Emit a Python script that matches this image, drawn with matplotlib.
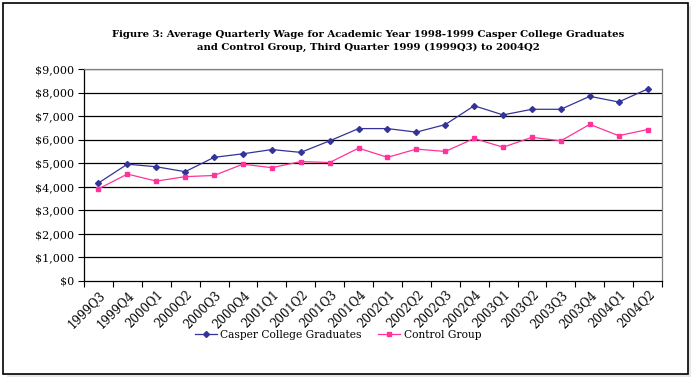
import matplotlib
matplotlib.use("Agg")
import matplotlib.pyplot as plt
from matplotlib.patches import Rectangle
import matplotlib.transforms as mtransforms
import numpy as np

quarters = ["1999Q3", "1999Q4", "2000Q1", "2000Q2", "2000Q3", "2000Q4",
            "2001Q1", "2001Q2", "2001Q3", "2001Q4", "2002Q1", "2002Q2",
            "2002Q3", "2002Q4", "2003Q1", "2003Q2", "2003Q3", "2003Q4",
            "2004Q1", "2004Q2"]
casper = [4160, 4960, 4850, 4640, 5250, 5400, 5580, 5460, 5950, 6470,
          6470, 6320, 6640, 7440, 7050, 7290, 7290, 7840, 7600, 8150]
control = [3910, 4540, 4240, 4430, 4480, 4960, 4810, 5070, 5030, 5640,
           5250, 5600, 5500, 6050, 5680, 6100, 5950, 6650, 6170, 6430]
yticks = [0, 1000, 2000, 3000, 4000, 5000, 6000, 7000, 8000, 9000]
title = ("Figure 3: Average Quarterly Wage for Academic Year 1998-1999 Casper College Graduates\n"
         "and Control Group, Third Quarter 1999 (1999Q3) to 2004Q2")

plt.rcParams['font.family'] = ['DejaVu Serif']

W, H = 692, 377
fig = plt.figure(figsize=(W / 100, H / 100), dpi=100)
fig.patch.set_facecolor('white')

# shadow + frame
fig.add_artist(Rectangle((7 / W, 1 - 378 / H), 684 / W, 372 / H, transform=fig.transFigure,
                         facecolor='#e6e6e6', edgecolor='none', zorder=0))
fig.add_artist(Rectangle((3 / W, 1 - 374 / H), 685 / W, 371 / H, transform=fig.transFigure,
                         facecolor='white', edgecolor='black', linewidth=1.2, zorder=1))

ax = fig.add_axes([84 / W, 1 - 281 / H, 578 / W, 212 / H])
ax.set_zorder(2)
x = np.arange(len(quarters))
ax.plot(x, casper, color='#333399', marker='D', markersize=3, linewidth=0.9,
        label='Casper College Graduates', zorder=3)
ax.plot(x, control, color='#ff3399', marker='s', markersize=3.2, linewidth=0.9,
        label='Control Group', zorder=3)

ax.set_xlim(-0.5, len(quarters) - 0.5)
ax.set_ylim(0, 9000)
ax.set_yticks(yticks)
ax.set_yticklabels([f"${v:,}" for v in yticks], fontsize=8)
for v in yticks[1:]:
    ax.axhline(v, color='black', linewidth=0.9, zorder=1)

ax.set_xticks(x)
ax.set_xticklabels(quarters, rotation=45, ha='right', va='top',
                   rotation_mode='anchor', fontsize=8.5)
offset = mtransforms.ScaledTranslation(-8 / 100, 1 / 100, fig.dpi_scale_trans)
for lab in ax.get_xticklabels():
    lab.set_transform(lab.get_transform() + offset)
ax.set_xticks(np.arange(len(quarters) + 1) - 0.5, minor=True)
ax.tick_params(axis='x', which='major', length=0, pad=5)
ax.tick_params(axis='x', which='minor', length=4, width=0.8, direction='out')
ax.tick_params(axis='y', length=4, width=0.8, direction='out', pad=3)

for s in ['left', 'bottom']:
    ax.spines[s].set_color('black')
    ax.spines[s].set_linewidth(0.9)
for s in ['top', 'right']:
    ax.spines[s].set_color('#808080')
    ax.spines[s].set_linewidth(0.9)

fig.text(368 / W, 1 - 41 / H, title, ha='center', va='center', fontsize=7.3,
         fontweight='bold', linespacing=1.65, zorder=3)

leg = fig.legend(loc='center', bbox_to_anchor=(338 / W, 1 - 335 / H), ncol=2,
                 frameon=False, fontsize=7.7, handlelength=2.1, columnspacing=1.5,
                 handletextpad=0.3)

fig.savefig('out.png', dpi=100)
